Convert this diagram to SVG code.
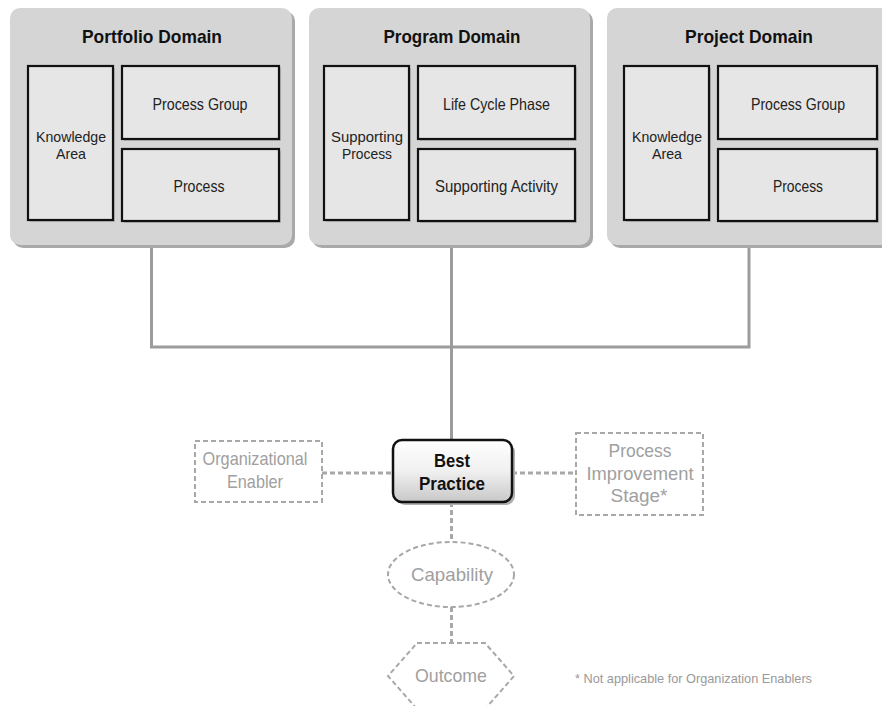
<svg xmlns="http://www.w3.org/2000/svg" width="882" height="706" viewBox="0 0 882 706">
<defs>
<linearGradient id="bpGrad" x1="0" y1="0" x2="0" y2="1">
<stop offset="0" stop-color="#ffffff"/>
<stop offset="0.5" stop-color="#f0f0f0"/>
<stop offset="1" stop-color="#c8c8c8"/>
</linearGradient>
<style>
.domain{fill:#d5d5d5;stroke:none}
.dshadow{fill:#a9a9a9;stroke:none}
.inner{fill:#e6e6e6;stroke:#111;stroke-width:2.2}
.ishadow{fill:#b5b5b5;stroke:none}
.title{font-family:"Liberation Sans Narrow","Liberation Sans",Arial,sans-serif;font-weight:bold;font-size:19px;fill:#111;text-anchor:middle}
.lbl{font-family:"Liberation Sans Narrow","Liberation Sans",Arial,sans-serif;font-size:16.5px;fill:#222;text-anchor:middle}
.lbl2{font-family:"Liberation Sans Narrow","Liberation Sans",Arial,sans-serif;font-size:14.5px;fill:#222;text-anchor:middle}
.bp{font-family:"Liberation Sans Narrow","Liberation Sans",Arial,sans-serif;font-weight:bold;font-size:19px;fill:#111;text-anchor:middle}
.glbl{font-family:"Liberation Sans Narrow","Liberation Sans",Arial,sans-serif;font-size:19px;fill:#a0a0a0;text-anchor:middle}
.dash{fill:#fff;stroke:#a8a8a8;stroke-width:2;stroke-dasharray:5,3}
.solid{fill:none;stroke:#9c9c9c;stroke-width:3}
.dline{fill:none;stroke:#a8a8a8;stroke-width:3;stroke-dasharray:5,3}
.note{font-family:"Liberation Sans Narrow","Liberation Sans",Arial,sans-serif;font-size:13.5px;fill:#999}
</style>
</defs>
<rect width="882" height="706" fill="#ffffff"/>

<g id="connectors">
<path class="solid" d="M151.5,248 V347 H749 V248"/>
<path class="solid" d="M451.5,248 V440"/>
<path class="dline" d="M322,473 H393"/>
<path class="dline" d="M512,473 H576"/>
<path class="dline" d="M451.5,502 V542"/>
<path class="dline" d="M451.5,607 V643"/>
</g>

<g id="portfolio-domain">
<rect class="dshadow" x="13" y="11" width="282" height="237" rx="10"/>
<rect class="domain" x="10" y="8" width="282" height="237" rx="10"/>
<text class="title" x="152" y="43" textLength="140" lengthAdjust="spacingAndGlyphs">Portfolio Domain</text>
<g id="portfolio-knowledge-area">
<rect class="ishadow" x="30" y="68" width="85" height="154"/>
<rect class="inner" x="28" y="66" width="85" height="154"/>
<text class="lbl2" x="71" y="142" textLength="70" lengthAdjust="spacingAndGlyphs">Knowledge</text>
<text class="lbl2" x="71" y="159" textLength="30" lengthAdjust="spacingAndGlyphs">Area</text>
</g>
<g id="portfolio-process-group">
<rect class="ishadow" x="124" y="68" width="157" height="73"/>
<rect class="inner" x="122" y="66" width="157" height="73"/>
<text class="lbl" x="200" y="110" textLength="95" lengthAdjust="spacingAndGlyphs">Process Group</text>
</g>
<g id="portfolio-process">
<rect class="ishadow" x="124" y="151" width="157" height="72"/>
<rect class="inner" x="122" y="149" width="157" height="72"/>
<text class="lbl" x="199" y="192" textLength="51" lengthAdjust="spacingAndGlyphs">Process</text>
</g>
</g>

<g id="program-domain">
<rect class="dshadow" x="312" y="11" width="281" height="237" rx="10"/>
<rect class="domain" x="309" y="8" width="281" height="237" rx="10"/>
<text class="title" x="452" y="43" textLength="137" lengthAdjust="spacingAndGlyphs">Program Domain</text>
<g id="program-supporting-process">
<rect class="ishadow" x="326" y="68" width="85" height="154"/>
<rect class="inner" x="324" y="66" width="85" height="154"/>
<text class="lbl2" x="367" y="142" textLength="72" lengthAdjust="spacingAndGlyphs">Supporting</text>
<text class="lbl2" x="367" y="159" textLength="50" lengthAdjust="spacingAndGlyphs">Process</text>
</g>
<g id="program-life-cycle-phase">
<rect class="ishadow" x="420" y="68" width="157" height="73"/>
<rect class="inner" x="418" y="66" width="157" height="73"/>
<text class="lbl" x="496.5" y="110" textLength="107" lengthAdjust="spacingAndGlyphs">Life Cycle Phase</text>
</g>
<g id="program-supporting-activity">
<rect class="ishadow" x="420" y="151" width="157" height="72"/>
<rect class="inner" x="418" y="149" width="157" height="72"/>
<text class="lbl" x="496.5" y="192" textLength="123" lengthAdjust="spacingAndGlyphs">Supporting Activity</text>
</g>
</g>

<g id="project-domain">
<rect class="dshadow" x="610" y="11" width="290" height="237" rx="10"/>
<rect class="domain" x="607" y="8" width="290" height="237" rx="10"/>
<text class="title" x="749" y="43" textLength="128" lengthAdjust="spacingAndGlyphs">Project Domain</text>
<g id="project-knowledge-area">
<rect class="ishadow" x="626" y="68" width="85" height="154"/>
<rect class="inner" x="624" y="66" width="85" height="154"/>
<text class="lbl2" x="667" y="142" textLength="70" lengthAdjust="spacingAndGlyphs">Knowledge</text>
<text class="lbl2" x="667" y="159" textLength="30" lengthAdjust="spacingAndGlyphs">Area</text>
</g>
<g id="project-process-group">
<rect class="ishadow" x="720" y="68" width="159" height="73"/>
<rect class="inner" x="718" y="66" width="159" height="73"/>
<text class="lbl" x="798" y="110" textLength="94" lengthAdjust="spacingAndGlyphs">Process Group</text>
</g>
<g id="project-process">
<rect class="ishadow" x="720" y="151" width="159" height="72"/>
<rect class="inner" x="718" y="149" width="159" height="72"/>
<text class="lbl" x="798" y="192" textLength="50" lengthAdjust="spacingAndGlyphs">Process</text>
</g>
</g>

<g id="best-practice">
<rect x="396" y="443" width="119" height="62" rx="9" fill="#b0b0b0"/>
<rect x="393" y="440" width="119" height="62" rx="9" fill="url(#bpGrad)" stroke="#111" stroke-width="2.5"/>
<text class="bp" x="452" y="467" textLength="36" lengthAdjust="spacingAndGlyphs">Best</text>
<text class="bp" x="452" y="490" textLength="66" lengthAdjust="spacingAndGlyphs">Practice</text>
</g>

<g id="organizational-enabler">
<rect class="dash" x="195" y="441" width="127" height="61"/>
<text class="glbl" x="255" y="465" textLength="105" lengthAdjust="spacingAndGlyphs">Organizational</text>
<text class="glbl" x="255" y="488" textLength="56" lengthAdjust="spacingAndGlyphs">Enabler</text>
</g>

<g id="process-improvement-stage">
<rect class="dash" x="576" y="433" width="127" height="82"/>
<text class="glbl" x="640" y="457" textLength="63" lengthAdjust="spacingAndGlyphs">Process</text>
<text class="glbl" x="640" y="480" textLength="107" lengthAdjust="spacingAndGlyphs">Improvement</text>
<text class="glbl" x="639" y="502" textLength="57" lengthAdjust="spacingAndGlyphs">Stage*</text>
</g>

<g id="capability">
<ellipse class="dash" cx="451" cy="574.5" rx="63" ry="32.5"/>
<text class="glbl" x="452" y="581" textLength="82" lengthAdjust="spacingAndGlyphs">Capability</text>
</g>

<g id="outcome">
<polygon class="dash" points="417,643 485,643 514,676 485,709 417,709 388,676"/>
<text class="glbl" x="451" y="682" textLength="72" lengthAdjust="spacingAndGlyphs">Outcome</text>
</g>

<g id="footnote">
<text class="note" x="575" y="683" textLength="237" lengthAdjust="spacingAndGlyphs">* Not applicable for Organization Enablers</text>
</g>
</svg>
